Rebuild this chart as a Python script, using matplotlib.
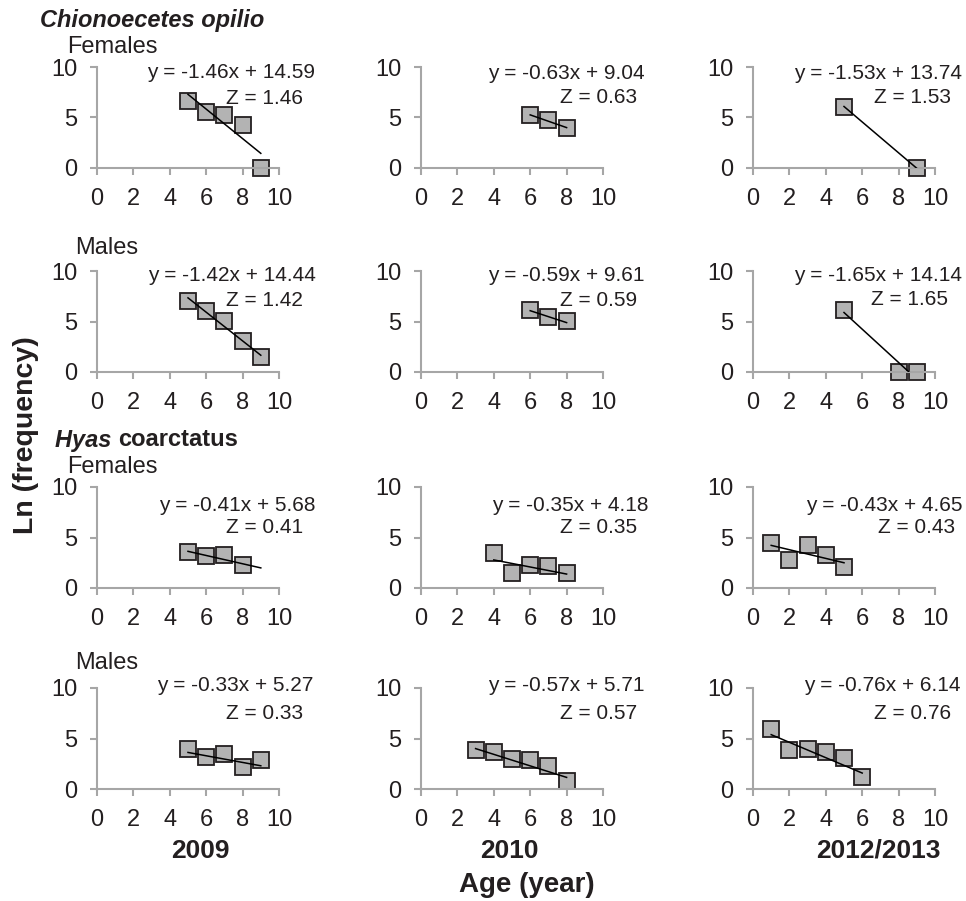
import matplotlib
matplotlib.use("Agg")
import matplotlib.pyplot as plt

plt.rcParams['font.family'] = ['Liberation Sans', 'DejaVu Sans']

# ---- data (row-major: CO females, CO males, HC females, HC males; cols 2009, 2010, 2012/2013)
ages = [
    [[5, 6, 7, 8, 9], [6, 7, 8], [5, 9]],
    [[5, 6, 7, 8, 9], [6, 7, 8], [5, 8, 9]],
    [[5, 6, 7, 8], [4, 5, 6, 7, 8], [1, 2, 3, 4, 5]],
    [[5, 6, 7, 8, 9], [3, 4, 5, 6, 7, 8], [1, 2, 3, 4, 5, 6]],
]
lnfreq = [
    [[6.6, 5.57, 5.23, 4.23, 0.0], [5.23, 4.77, 3.93], [6.0, 0.0]],
    [[7.03, 6.04, 5.05, 3.07, 1.49], [6.17, 5.45, 5.05], [6.17, 0.0, 0.0]],
    [[3.56, 3.13, 3.3, 2.24], [3.5, 1.49, 2.31, 2.18, 1.49], [4.46, 2.74, 4.22, 3.3, 2.08]],
    [[3.97, 3.21, 3.44, 2.22, 2.88], [3.87, 3.64, 2.98, 2.88, 2.32, 0.83], [5.96, 3.87, 3.97, 3.71, 3.11, 1.23]],
]
slopes = [
    [-1.46, -0.63, -1.53],
    [-1.42, -0.59, -1.65],
    [-0.41, -0.35, -0.43],
    [-0.33, -0.57, -0.76],
]
intercepts = [
    [14.59, 9.04, 13.74],
    [14.44, 9.61, 14.14],
    [5.68, 4.18, 4.65],
    [5.27, 5.71, 6.14],
]
# trendline x-range
line_range = [
    [(5, 9), (6, 8), (5, 9)],
    [(5, 9), (6, 8), (5, 9)],
    [(5, 9), (4, 8), (1, 5)],
    [(5, 9), (3, 8), (1, 6)],
]
col_labels = ["2009", "2010", "2012/2013"]
xticks = [0, 2, 4, 6, 8, 10]
yticks = [0, 5, 10]

# ---- layout (pixels)
W, H = 966, 901
col_x0 = [97, 421, 753]
ax_w = 182
row_y10 = [67, 271, 487, 688]
ax_h = 101

# equation text positions (axes fraction: eq right x, eq y, Z right x, Z y)
eq_pos = [
    [(1.20, 0.95, 1.13, 0.69), (1.23, 0.94, 1.19, 0.70), (1.15, 0.94, 1.09, 0.70)],
    [(1.20, 0.96, 1.13, 0.71), (1.23, 0.96, 1.19, 0.71), (1.15, 0.96, 1.07, 0.72)],
    [(1.20, 0.82, 1.13, 0.60), (1.25, 0.82, 1.19, 0.60), (1.15, 0.82, 1.11, 0.60)],
    [(1.19, 1.02, 1.13, 0.75), (1.23, 1.02, 1.19, 0.75), (1.14, 1.02, 1.09, 0.75)],
]

spine_c = '#a6a6a6'
text_c = '#231f20'
fs_eq = 15
fs_tick = 17
fs_lab = 17

fig = plt.figure(figsize=(W / 100, H / 100), dpi=100)
for r in range(4):
    for c in range(3):
        left = col_x0[c] / W
        bottom = 1 - (row_y10[r] + ax_h) / H
        ax = fig.add_axes([left, bottom, ax_w / W, ax_h / H])
        ax.set_xlim(0, 10)
        ax.set_ylim(0, 10)
        ax.set_xticks(xticks)
        ax.set_yticks(yticks)
        for s in ['top', 'right']:
            ax.spines[s].set_visible(False)
        for s in ['left', 'bottom']:
            ax.spines[s].set_color(spine_c)
            ax.spines[s].set_linewidth(1.5)
        ax.tick_params(axis='both', colors=spine_c, width=1.5, length=5,
                       labelsize=fs_tick, labelcolor=text_c, direction='out')
        ax.tick_params(axis='x', pad=9.5)
        ax.tick_params(axis='y', pad=9)
        ax.patch.set_visible(False)
        x0, x1 = line_range[r][c]
        m, b = slopes[r][c], intercepts[r][c]
        ax.plot([x0, x1], [m * x0 + b, m * x1 + b], color='black', lw=1.1, zorder=3)
        ax.plot(ages[r][c], lnfreq[r][c], linestyle='none', marker='s', markersize=11,
                markerfacecolor='#b3b3b3', markeredgecolor='#231f20', markeredgewidth=1.3,
                clip_on=False, zorder=2)
        ex, ey, zx, zy = eq_pos[r][c]
        ax.text(ex, ey, f"y = {m:.2f}x + {b:.2f}", transform=ax.transAxes,
                ha='right', va='center', fontsize=fs_eq, color=text_c)
        ax.text(zx, zy, f"Z = {abs(m):.2f}", transform=ax.transAxes,
                ha='right', va='center', fontsize=fs_eq, color=text_c)


def fx(px):
    return px / W


def fy(py):
    return 1 - py / H


fig.text(fx(40), fy(20), "Chionoecetes opilio", fontsize=17, fontweight='bold',
         fontstyle='italic', ha='left', va='center', color=text_c)
t_h = fig.text(fx(55), fy(440), "Hyas ", fontsize=17, fontweight='bold',
               fontstyle='italic', ha='left', va='center', color=text_c)
renderer = fig.canvas.get_renderer()
bb = t_h.get_window_extent(renderer)
fig.text(bb.x1 / W, fy(440), "coarctatus", fontsize=17, fontweight='bold',
         ha='left', va='center', color=text_c)
fig.text(fx(67), fy(47), "Females", fontsize=fs_lab, ha='left', va='center', color=text_c)
fig.text(fx(75), fy(248), "Males", fontsize=fs_lab, ha='left', va='center', color=text_c)
fig.text(fx(67), fy(467), "Females", fontsize=fs_lab, ha='left', va='center', color=text_c)
fig.text(fx(75), fy(663), "Males", fontsize=fs_lab, ha='left', va='center', color=text_c)

for c, lab in enumerate(col_labels):
    cx = [200, 509, 878][c]
    fig.text(fx(cx), fy(851), lab, fontsize=19, fontweight='bold', ha='center',
             va='center', color=text_c)
fig.text(fx(527), fy(885), "Age (year)", fontsize=20, fontweight='bold', ha='center',
         va='center', color=text_c)
fig.text(fx(26), fy(435), "Ln (frequency)", fontsize=20.5, fontweight='bold', ha='center',
         va='center', rotation=90, color=text_c)

fig.savefig("out.png", dpi=100)
